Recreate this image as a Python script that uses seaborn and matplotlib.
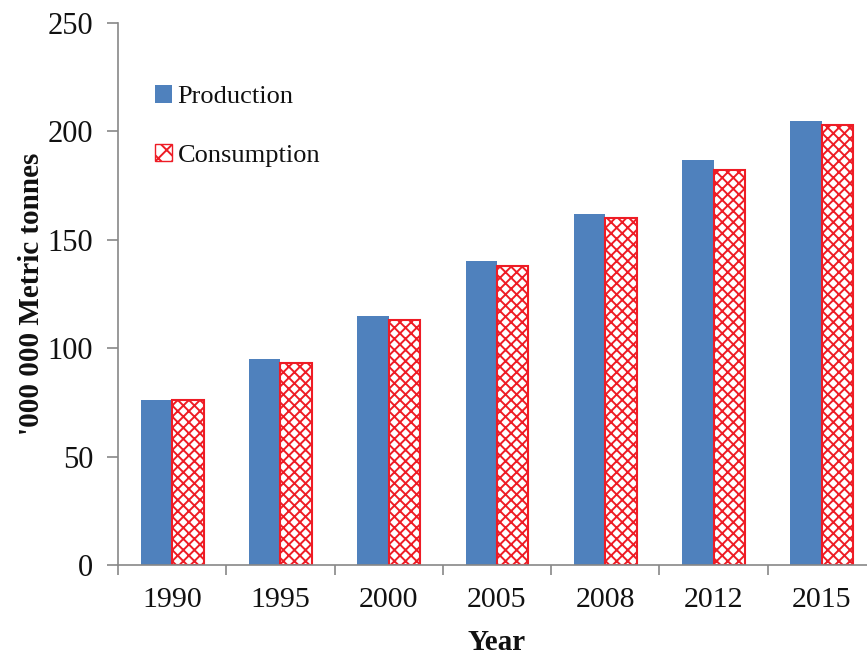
import pandas as pd
import matplotlib
matplotlib.use("Agg")
import matplotlib.pyplot as plt
import seaborn as sb
from matplotlib.patches import Patch

years = ["1990", "1995", "2000", "2005", "2008", "2012", "2015"]
production = [76, 95, 115, 140, 162, 187, 205]
consumption = [76, 93, 113, 138, 160, 182, 203]

df = pd.DataFrame({
    "Year": years * 2,
    "value": production + consumption,
    "series": ["Production"] * len(years) + ["Consumption"] * len(years),
})

sb.set_style("white")
plt.rcParams['font.family'] = ['Liberation Serif', 'DejaVu Serif']
plt.rcParams['hatch.color'] = '#ee1c25'
plt.rcParams['hatch.linewidth'] = 1.4
plt.rcParams['text.color'] = '#111111'

fig = plt.figure(figsize=(8.67, 6.55), dpi=100)
ax = fig.add_axes([118 / 867, 90 / 655, 758 / 867, 542 / 655])

sb.barplot(data=df, x="Year", y="value", hue="series", width=0.58,
           palette={"Production": "#4f81bd", "Consumption": "white"},
           saturation=1, ax=ax, legend=False)

n = len(years)
for p in ax.patches[n:2 * n]:
    p.set_hatch("xxx")
    p.set_edgecolor("#ee1c25")
    p.set_linewidth(1.5)
for p in ax.patches[:n]:
    p.set_edgecolor("none")

ax.set_xlim(-0.5, n - 0.5)
ax.set_ylim(0, 250)
ax.set_yticks([0, 50, 100, 150, 200, 250])
ax.set_xticks(range(n))
ax.set_xticklabels(years)
ax.set_xticks([i - 0.5 for i in range(n + 1)], minor=True)
ax.tick_params(axis='x', which='major', bottom=False, labelsize=21.5, pad=12,
               labelcolor='#111111')
ax.tick_params(axis='x', which='minor', bottom=True, length=7, width=1.2,
               color='#888888', direction='out')
ax.tick_params(axis='y', left=True, length=8, width=1.2, color='#888888',
               direction='out', labelsize=22, pad=10, labelcolor='#111111')

for s in ["top", "right"]:
    ax.spines[s].set_visible(False)
for s in ["left", "bottom"]:
    ax.spines[s].set_color("#888888")
    ax.spines[s].set_linewidth(1.2)

ax.set_xlabel("Year", fontsize=21, fontweight="bold", labelpad=12, color='#111111')
ax.set_ylabel("'000 000 Metric tonnes", fontsize=21, fontweight="bold",
              labelpad=2, color='#111111')

handles = [Patch(facecolor="#4f81bd", edgecolor="none", label="Production"),
           Patch(facecolor="white", edgecolor="#ee1c25", hatch="xx", label="Consumption")]
ax.legend(handles=handles, loc="upper left", bbox_to_anchor=(0.035, 0.905),
          frameon=False, fontsize=19, handlelength=0.65, handleheight=0.65,
          handletextpad=0.2, labelspacing=1.35, borderaxespad=0)

fig.savefig("out.png", dpi=100)
